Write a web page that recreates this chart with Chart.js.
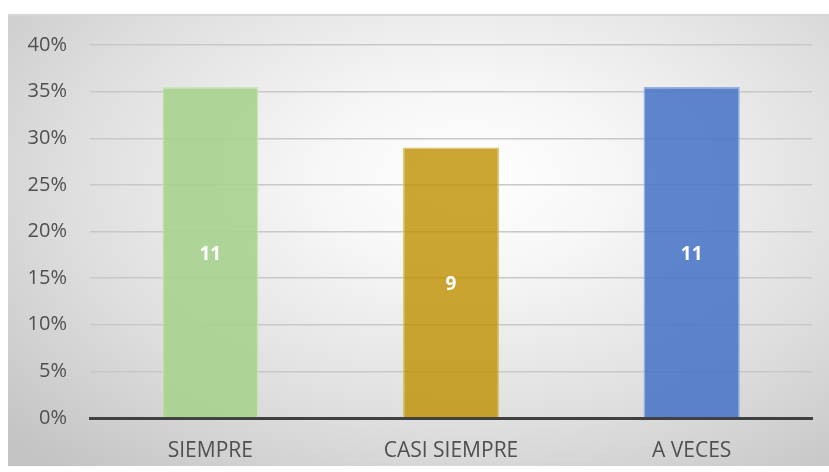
<!DOCTYPE html>
<html>
<head>
<meta charset="utf-8">
<script src="https://cdn.jsdelivr.net/npm/chart.js@4.4.0/dist/chart.umd.min.js"></script>
<style>
html,body{margin:0;padding:0;background:#fff;}
#marco{position:absolute;left:8px;top:14px;width:821px;height:452px;
background:radial-gradient(ellipse 75% 85% at 56% 36%, #ffffff 0%, #f6f6f6 25%, #dedede 65%, #c4c4c4 100%);
border-top:2px solid #d6d6d6;box-sizing:border-box;}
</style>
</head>
<body>
<div id="marco"><canvas id="grafico" width="821" height="450"></canvas></div>
<script>
const categorias=['SIEMPRE','CASI SIEMPRE','A VECES'];
const porcentajes=[0.355,0.29,0.355];
const cantidades=[11,9,11];
const colores=['rgba(169,209,142,0.9)','rgba(191,144,0,0.8)','rgba(68,114,196,0.85)'];
const bordes=['rgba(200,230,180,0.9)','rgba(220,190,110,0.9)','rgba(140,170,225,0.9)'];

const etiquetas={
id:'etiquetas',
afterDatasetsDraw(chart){
const ctx=chart.ctx;
const meta=chart.getDatasetMeta(0);
ctx.save();
ctx.fillStyle='#ffffff';
ctx.font='bold 19px "Open Sans"';
ctx.textAlign='center';
ctx.textBaseline='middle';
meta.data.forEach((bar,i)=>{
ctx.fillText(cantidades[i],bar.x,(bar.y+bar.base)/2+2);
});
ctx.restore();
}
};

const ctx_grafico=document.getElementById('grafico');
const grafico=new Chart(ctx_grafico,{
type:'bar',
data:{
labels:categorias,
datasets:[{
data:porcentajes,
backgroundColor:colores,
borderColor:bordes,
borderWidth:1.5,
barPercentage:0.4,
categoryPercentage:1
}]
},
options:{
responsive:false,
animation:false,
layout:{padding:{top:29,right:17,left:0,bottom:0}},
plugins:{legend:{display:false},tooltip:{enabled:false}},
scales:{
x:{
grid:{display:false,drawTicks:false},
border:{color:'#404040',width:3},
ticks:{color:'#505050',font:{family:'Open Sans',size:21},padding:20},
afterFit(s){s.height=48;s.paddingLeft=0;s.paddingRight=0;}
},
y:{
min:0,max:0.4,
grid:{color:'#c8c8c8',lineWidth:1.5,drawTicks:false},
border:{display:false},
ticks:{stepSize:0.05,color:'#505050',font:{family:'Open Sans',size:20},padding:23,
callback:v=>Math.round(v*100)+'%'},
afterFit(s){s.width=82;s.paddingTop=0;s.paddingBottom=0;}
}
}
},
plugins:[etiquetas]
});
</script>
</body>
</html>
